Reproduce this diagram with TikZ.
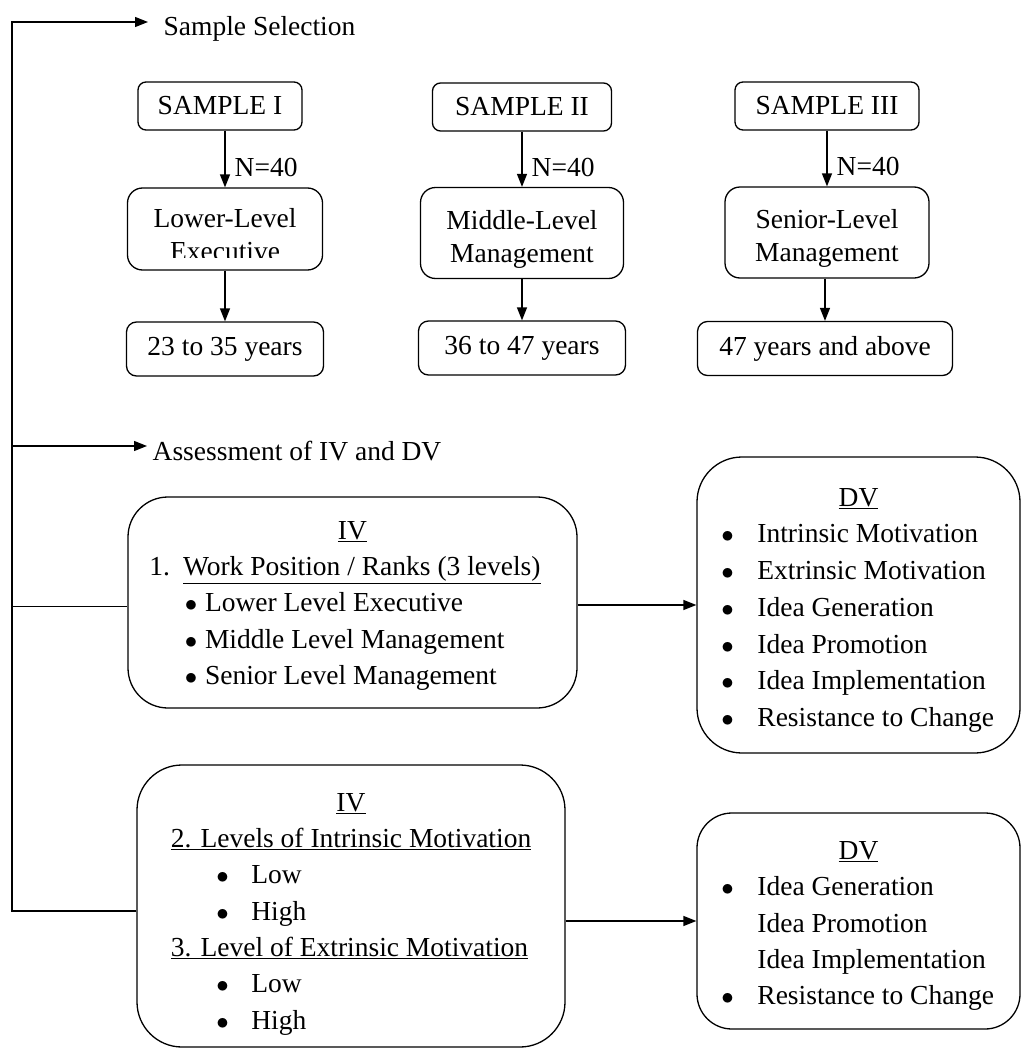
\documentclass[tikz,border=0pt]{standalone}
\usepackage{fontspec}
\setmainfont{Liberation Serif}
\usetikzlibrary{arrows.meta}
\newcommand\bul{\makebox[9.6pt][c]{$\bullet$}}
\newcommand\lowerby[2]{\raisebox{-#1}[\height][\depth]{#2}}

\begin{document}
\begin{tikzpicture}[
    x=1pt, y=-1pt, line width=1.3pt,
    font=\fontsize{27.5}{33}\selectfont,
    smpl/.style={draw, rounded corners=8pt, minimum height=48pt, inner sep=0pt},
    grp/.style={draw, rounded corners=15pt, inner sep=0pt, align=center},
    age/.style={draw, rounded corners=10pt, minimum height=54pt, inner sep=0pt},
    panel/.style={draw, inner sep=0pt, font=\fontsize{27.5}{36.3}\selectfont},
    arr/.style={-{Triangle[length=13pt,width=10pt]}},
    lbl/.style={inner sep=0pt},
    nlbl/.style={inner sep=9pt, anchor=west}
  ]
    \useasboundingbox (0,0) rectangle (1021,1049);

    % samples
    \node[smpl, minimum width=164pt] (s1) at (220,106) {SAMPLE I};
    \node[smpl, minimum width=179pt] (s2) at (522,107) {SAMPLE II};
    \node[smpl, minimum width=184pt] (s3) at (827,106) {SAMPLE III};

    \begin{scope}
      \clip (128,188) rectangle (323,257);
      \node[lbl, align=center] (g1txt) at (225,235) {Lower-Level\\Executive};
    \end{scope}
    \node[grp, minimum width=195pt, minimum height=82pt] (g1) at (225,229) {};
    \node[grp, minimum width=203pt, minimum height=91pt] (g2) at (522,233) {\rule{0pt}{31pt}Middle-Level\\Management};
    \node[grp, minimum width=204pt, minimum height=91pt] (g3) at (827,232.5) {\rule{0pt}{31pt}Senior-Level\\Management};

    \node[age, minimum width=197pt] (a1) at (225,349) {23 to 35 years};
    \node[age, minimum width=207pt] (a2) at (522,348) {36 to 47 years};
    \node[age, minimum width=255pt] (a3) at (825,348.5) {47 years and above};

    \foreach \i in {1,2,3} {
      \draw[arr] (g\i.north |- s\i.south) -- (g\i.north) node[nlbl, pos=0.65] {N=40};
      \draw[arr] (a\i.north |- g\i.south) -- (a\i.north);
    }

    % labels on the spine
    \node[lbl, anchor=base west] (sel) at (163,36) {Sample Selection};
    \node[lbl, anchor=base west] (ass) at (152,460) {Assessment of IV and DV};

    % IV / DV panels
    \node[panel, rounded corners=40pt, minimum width=449pt, minimum height=211pt] (iv1) at (352.5,602.5) {%
      \lowerby{2pt}{\begin{tabular}{@{}l@{\hspace{15pt}}}
        \multicolumn{1}{@{}c@{\hspace{15pt}}}{\hspace{15pt}\underline{IV}}\\
        1.\hspace{13pt}\underline{Work Position / Ranks (3 levels)}\\
        \hspace{37pt}\bul\hspace{9pt}Lower Level Executive\\
        \hspace{37pt}\bul\hspace{9pt}Middle Level Management\\
        \hspace{37pt}\bul\hspace{9pt}Senior Level Management
      \end{tabular}}};
    \node[panel, rounded corners=45pt, minimum width=323pt, minimum height=296pt,
          font=\fontsize{27.5}{36.7}\selectfont] (dv1) at (858.5,605) {%
      \lowerby{4pt}{\begin{tabular}{@{}l@{\hspace{25pt}}l@{}}
        \multicolumn{2}{c}{\underline{DV}}\\
        \bul & Intrinsic Motivation\\
        \bul & Extrinsic Motivation\\
        \bul & Idea Generation\\
        \bul & Idea Promotion\\
        \bul & Idea Implementation\\
        \bul & Resistance to Change
      \end{tabular}}};
    \node[panel, rounded corners=45pt, minimum width=428pt, minimum height=282pt] (iv2) at (351,906) {%
      \lowerby{7pt}{\begin{tabular}{@{}l@{}}
        \multicolumn{1}{@{}c@{}}{\underline{IV}}\\
        \underline{2. Levels of Intrinsic Motivation}\\
        \hspace{47pt}\bul\hspace{24pt}Low\\
        \hspace{47pt}\bul\hspace{24pt}High\\
        \underline{3. Level of Extrinsic Motivation}\\
        \hspace{47pt}\bul\hspace{24pt}Low\\
        \hspace{47pt}\bul\hspace{24pt}High
      \end{tabular}}};
    \node[panel, rounded corners=35pt, minimum width=323pt, minimum height=216pt] (dv2) at (858.5,921) {%
      \lowerby{4pt}{\begin{tabular}{@{}l@{\hspace{25pt}}l@{}}
        \multicolumn{2}{c}{\underline{DV}}\\
        \bul & Idea Generation\\
             & Idea Promotion\\
             & Idea Implementation\\
        \bul & Resistance to Change
      \end{tabular}}};

    % spine and branches
    \coordinate (spine) at (12,22);
    \coordinate (assin) at ([xshift=-5pt,yshift=14pt]ass.base west);
    \draw[arr] (iv2.west) ++(0,5) -| (spine) -- ([xshift=-15pt,yshift=14pt]sel.base west);
    \draw[arr] (assin -| spine) -- (assin);
    \draw (iv1.west -| spine) ++(0,4) -- ([yshift=-4pt]iv1.west);
    \draw[arr] (dv1.west -| iv1.east) -- (dv1.west);
    \draw[arr] (dv2.west -| iv2.east) -- (dv2.west);
\end{tikzpicture}
\end{document}
